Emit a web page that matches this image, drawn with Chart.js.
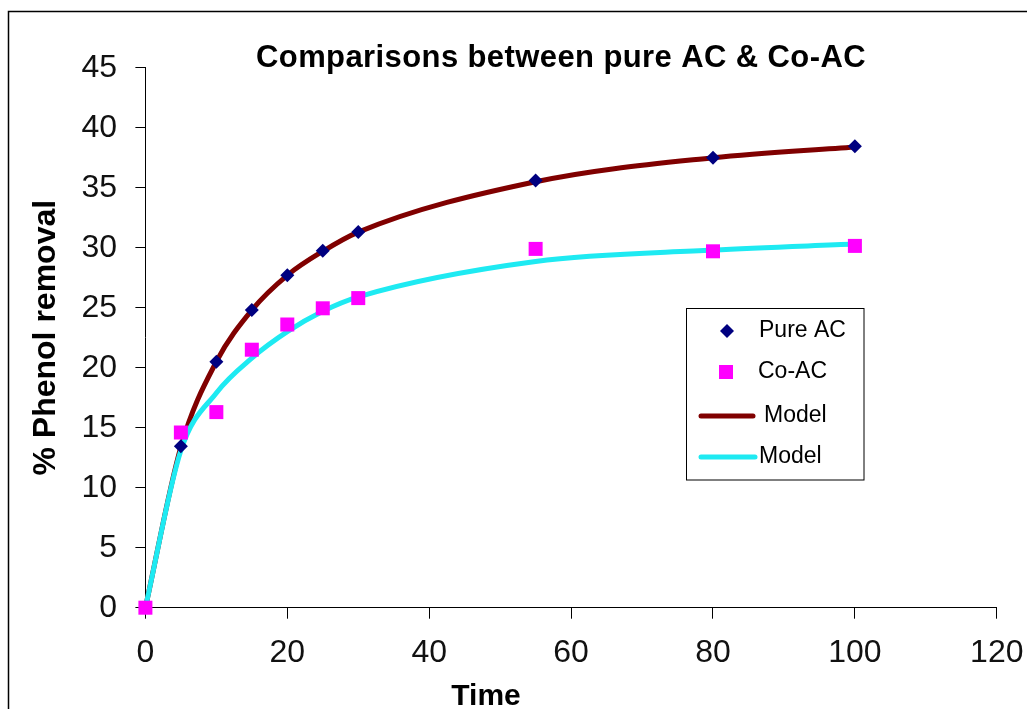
<!DOCTYPE html>
<html>
<head>
<meta charset="utf-8">
<script src="https://cdn.jsdelivr.net/npm/chart.js@4/dist/chart.umd.min.js"></script>
<style>
  html, body { margin: 0; padding: 0; background: #fff; }
  #wrap { position: relative; width: 1027px; height: 709px; overflow: hidden; }
  canvas { display: block; }
</style>
</head>
<body>
<div id="wrap"><canvas id="c" width="1027" height="709"></canvas></div>
<script>
// ---- data ----
const chartTitle = 'Comparisons between pure AC & Co-AC';
const xTitle = 'Time';
const yTitle = '% Phenol removal';
const times = [0, 5, 10, 15, 20, 25, 30, 55, 80, 100];
const pureAC = [0, 13.45, 20.5, 24.8, 27.7, 29.75, 31.3, 35.6, 37.5, 38.45];
const coAC = [0, 14.6, 16.3, 21.5, 23.6, 24.95, 25.8, 29.9, 29.7, 30.15];
const modelPure = [0, 13.4, 20.5, 24.8, 27.7, 29.7, 31.3, 35.5, 37.5, 38.4];
const modelCo = [0, 13.1, 17.9, 20.8, 23.0, 24.7, 25.9, 28.85, 29.8, 30.3];
const seriesNames = ['Pure AC', 'Co-AC', 'Model', 'Model'];
const xTickValues = [0, 20, 40, 60, 80, 100, 120];
const yTickValues = [0, 5, 10, 15, 20, 25, 30, 35, 40, 45];

const toXY = (ys) => ys.map((v, i) => ({ x: times[i], y: v }));

const FONT = "'Liberation Sans', Arial, Helvetica, sans-serif";
const NAVY = '#000080', PINK = '#FF00FF', MAROON = '#800000', CYAN = '#1EEAF2';

const decor = {
  id: 'decor',
  afterDraw(chart) {
    const ctx = chart.ctx;
    ctx.save();
    // outer frame
    ctx.strokeStyle = '#000';
    ctx.lineWidth = 1.5;
    ctx.strokeRect(8.5, 11.5, 1200, 1000);
    // title
    ctx.fillStyle = '#000';
    ctx.font = 'bold 31px ' + FONT;
    try { ctx.letterSpacing = '0.4px'; } catch (e) {}
    ctx.textAlign = 'center';
    ctx.textBaseline = 'alphabetic';
    ctx.fillText(chartTitle, 561, 67);
    try { ctx.letterSpacing = '0px'; } catch (e) {}
    // x axis title
    ctx.font = 'bold 30px ' + FONT;
    ctx.fillText(xTitle, 486, 705);
    // legend
    const ds = chart.data.datasets;
    ctx.lineWidth = 1;
    ctx.strokeStyle = '#000';
    ctx.strokeRect(686.5, 308.5, 177.5, 171.5);
    ctx.font = '23px ' + FONT;
    ctx.textAlign = 'left';
    ctx.textBaseline = 'middle';
    // row 1 diamond
    ctx.fillStyle = NAVY;
    ctx.beginPath();
    ctx.moveTo(727, 324); ctx.lineTo(734, 331); ctx.lineTo(727, 338); ctx.lineTo(720, 331); ctx.closePath();
    ctx.fill();
    ctx.fillStyle = '#000';
    ctx.fillText(ds[0].label, 759, 331);
    // row 2 square
    ctx.fillStyle = PINK;
    ctx.fillRect(719, 365, 14, 14);
    ctx.fillStyle = '#000';
    ctx.fillText(ds[1].label, 758, 372);
    // row 3 line
    ctx.lineCap = 'round';
    ctx.lineWidth = 5;
    ctx.strokeStyle = MAROON;
    ctx.beginPath(); ctx.moveTo(701, 416); ctx.lineTo(753, 416); ctx.stroke();
    ctx.fillText(ds[2].label, 764, 416);
    // row 4 line
    ctx.strokeStyle = CYAN;
    ctx.beginPath(); ctx.moveTo(701, 457); ctx.lineTo(755, 457); ctx.stroke();
    ctx.fillText(ds[3].label, 759, 457);
    ctx.restore();
  }
};

new Chart(document.getElementById('c'), {
  type: 'scatter',
  data: {
    datasets: [
      { label: seriesNames[0], data: toXY(pureAC), showLine: false, clip: false, order: 1,
        pointStyle: 'rectRot', pointRadius: 7, pointBorderWidth: 0,
        backgroundColor: NAVY, borderColor: NAVY },
      { label: seriesNames[1], data: toXY(coAC), showLine: false, clip: false, order: 0,
        pointStyle: 'rect', pointRadius: 9.9, pointBorderWidth: 0,
        backgroundColor: PINK, borderColor: PINK },
      { label: seriesNames[2], data: toXY(modelPure), showLine: true, clip: false, order: 3,
        pointRadius: 0, borderWidth: 5, borderColor: MAROON, backgroundColor: MAROON,
        cubicInterpolationMode: 'monotone', tension: 0.4 },
      { label: seriesNames[3], data: toXY(modelCo), showLine: true, clip: false, order: 2,
        pointRadius: 0, borderWidth: 5, borderColor: CYAN, backgroundColor: CYAN,
        cubicInterpolationMode: 'monotone', tension: 0.4 }
    ]
  },
  options: {
    responsive: false,
    animation: false,
    devicePixelRatio: 1,
    layout: { padding: { top: 67.7, right: 30.2, left: 0, bottom: 0 } },
    plugins: { legend: { display: false }, tooltip: { enabled: false }, title: { display: false } },
    scales: {
      x: {
        type: 'linear', min: 0, max: 120,
        afterBuildTicks(scale) { scale.ticks = xTickValues.map(v => ({ value: v })); },
        afterFit(scale) { scale.height = 101.3; scale.paddingLeft = 0; scale.paddingRight = 0; },
        grid: { drawOnChartArea: false, drawTicks: true, tickLength: 11, color: '#000', lineWidth: 1 },
        border: { display: true, color: '#000', width: 1 },
        ticks: { color: '#111', padding: 15.6, font: { family: FONT, size: 32 }, maxRotation: 0 },
        title: { display: false }
      },
      y: {
        type: 'linear', min: 0, max: 45,
        afterBuildTicks(scale) { scale.ticks = yTickValues.map(v => ({ value: v })); },
        afterFit(scale) { scale.width = 145.4; scale.paddingTop = 0; scale.paddingBottom = 0; },
        grid: { drawOnChartArea: false, drawTicks: true, tickLength: 10, color: '#000', lineWidth: 1 },
        border: { display: true, color: '#000', width: 1 },
        ticks: { color: '#111', padding: 18.4, font: { family: FONT, size: 32 } },
        title: { display: true, text: yTitle, color: '#000', padding: { top: 27, bottom: 0 },
                 font: { family: FONT, size: 32, weight: 'bold' } }
      }
    }
  },
  plugins: [decor]
});
</script>
</body>
</html>
